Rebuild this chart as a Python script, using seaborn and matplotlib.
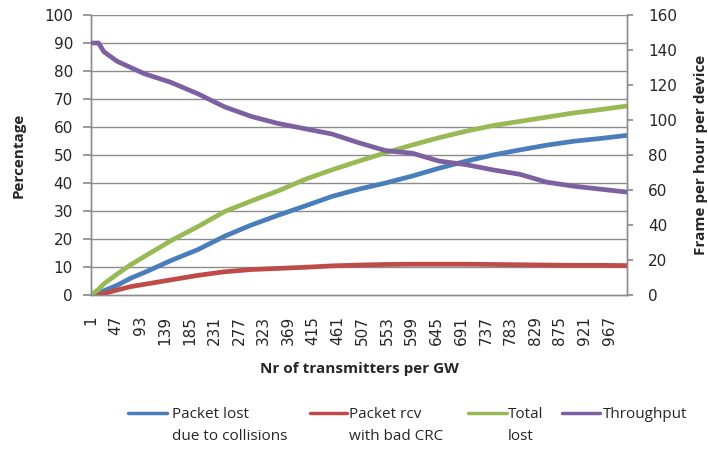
import matplotlib
matplotlib.use("Agg")
import matplotlib.pyplot as plt
import seaborn as sns
import pandas as pd
from matplotlib.lines import Line2D

# Sample points along the transmitter count
x_nodes = [1, 15, 25, 50, 75, 100, 150, 200, 250, 300, 350, 400, 450, 500,
           550, 600, 650, 700, 750, 800, 850, 900, 950, 1000]

# Percentages (left axis)
lost_collisions = [0.0, 0.8, 1.5, 3.5, 6.0, 8.0, 12.3, 16.2, 21.0, 25.0, 28.5, 31.8,
                   35.2, 37.8, 40.0, 42.5, 45.3, 47.8, 50.0, 51.8, 53.5, 54.9, 55.9, 57.0]
bad_crc = [0.0, 0.0, 0.5, 1.8, 3.0, 3.8, 5.4, 7.0, 8.3, 9.1, 9.5, 9.9,
           10.4, 10.7, 10.9, 11.0, 11.0, 11.0, 10.9, 10.8, 10.7, 10.6, 10.6, 10.5]
total_lost = [0.0, 2.0, 4.0, 7.5, 10.8, 13.7, 19.4, 24.4, 29.8, 33.6, 37.2, 41.3,
              44.7, 47.8, 50.8, 53.6, 56.2, 58.5, 60.5, 62.0, 63.5, 65.0, 66.2, 67.5]

# Frames per hour per device (right axis)
throughput = [144, 144, 139, 133.5, 130, 126.5, 121.5, 115, 107.5, 102, 98, 95,
              92, 87, 82.5, 81, 76.5, 74.5, 71.5, 69, 64.5, 62.2, 60.5, 58.8]

tick_values = list(range(1, 1000, 46))
series_names = ["Packet lost\ndue to collisions", "Packet rcv\nwith bad CRC",
                "Total\nlost", "Throughput"]
colors = ["#4A7EBB", "#BE4B48", "#98B954", "#7D60A0"]

sns.set_theme(style="white")
plt.rcParams["font.family"] = ["DejaVu Sans"]
label_font = ["Open Sans", "DejaVu Sans"]
tick_color = "#262626"

left_df = pd.DataFrame({
    "x": x_nodes * 3,
    "value": lost_collisions + bad_crc + total_lost,
    "series": [series_names[0]] * len(x_nodes) + [series_names[1]] * len(x_nodes)
              + [series_names[2]] * len(x_nodes),
})
right_df = pd.DataFrame({"x": x_nodes, "value": throughput})

W, H = 708, 450
fig = plt.figure(figsize=(W / 100, H / 100), dpi=100)
ax = fig.add_axes([91 / W, 1 - 295 / H, (627 - 91) / W, (295 - 15) / H])

grid_color = "#8C8C8C"
for v in range(10, 101, 10):
    ax.axhline(v, color=grid_color, lw=1.0, zorder=0)

sns.lineplot(data=left_df, x="x", y="value", hue="series", palette=colors[:3],
             hue_order=series_names[:3], lw=3.4, ax=ax, legend=False, zorder=3)

ax2 = ax.twinx()
sns.lineplot(data=right_df, x="x", y="value", color=colors[3], lw=3.4, ax=ax2,
             legend=False, zorder=3)

ax.set_xlim(1, 1000)
ax.set_ylim(0, 100)
ax2.set_ylim(0, 160)
ax.set_yticks(range(0, 101, 10))
ax2.set_yticks(range(0, 161, 20))
ax.set_xticks(tick_values)
ax.set_xticklabels([str(t) for t in tick_values], rotation=90, fontsize=11)

for a in (ax, ax2):
    for s in a.spines.values():
        s.set_color(grid_color)
        s.set_linewidth(1.0)
ax.spines["top"].set_visible(False)
ax2.spines["top"].set_visible(False)

ax.tick_params(axis="y", length=6, color=grid_color, labelsize=11, pad=7,
               left=True, labelcolor=tick_color)
ax.tick_params(axis="x", length=0, pad=15, bottom=True, labelcolor=tick_color)
ax2.tick_params(axis="y", length=4, color=grid_color, labelsize=11, pad=11,
                right=True, labelcolor=tick_color)

ax.set_xlabel("Nr of transmitters per GW", fontsize=11, fontweight="bold",
              family=label_font, labelpad=12)
ax.set_ylabel("Percentage", fontsize=11, fontweight="bold", family=label_font,
              labelpad=13)
ax2.set_ylabel("Frame per hour per device", fontsize=11, fontweight="bold",
               family=label_font, labelpad=12)

# Legend below the axes: short line handle, label lines stacked beneath
legend_entries = [(128, 167, 172), (310, 347, 349), (468, 507, 508), (562, 600, 603)]
for (x0, x1, tx), name, c in zip(legend_entries, series_names, colors):
    fig.add_artist(Line2D([x0 / W, x1 / W], [1 - 413 / H, 1 - 413 / H],
                          transform=fig.transFigure, color=c, lw=2.5))
    for i, part in enumerate(name.split("\n")):
        fig.text(tx / W, 1 - (414 + 23 * i) / H, part, fontsize=11,
                 family=label_font, color=tick_color, va="center", ha="left")

fig.savefig("out.png", dpi=100)
